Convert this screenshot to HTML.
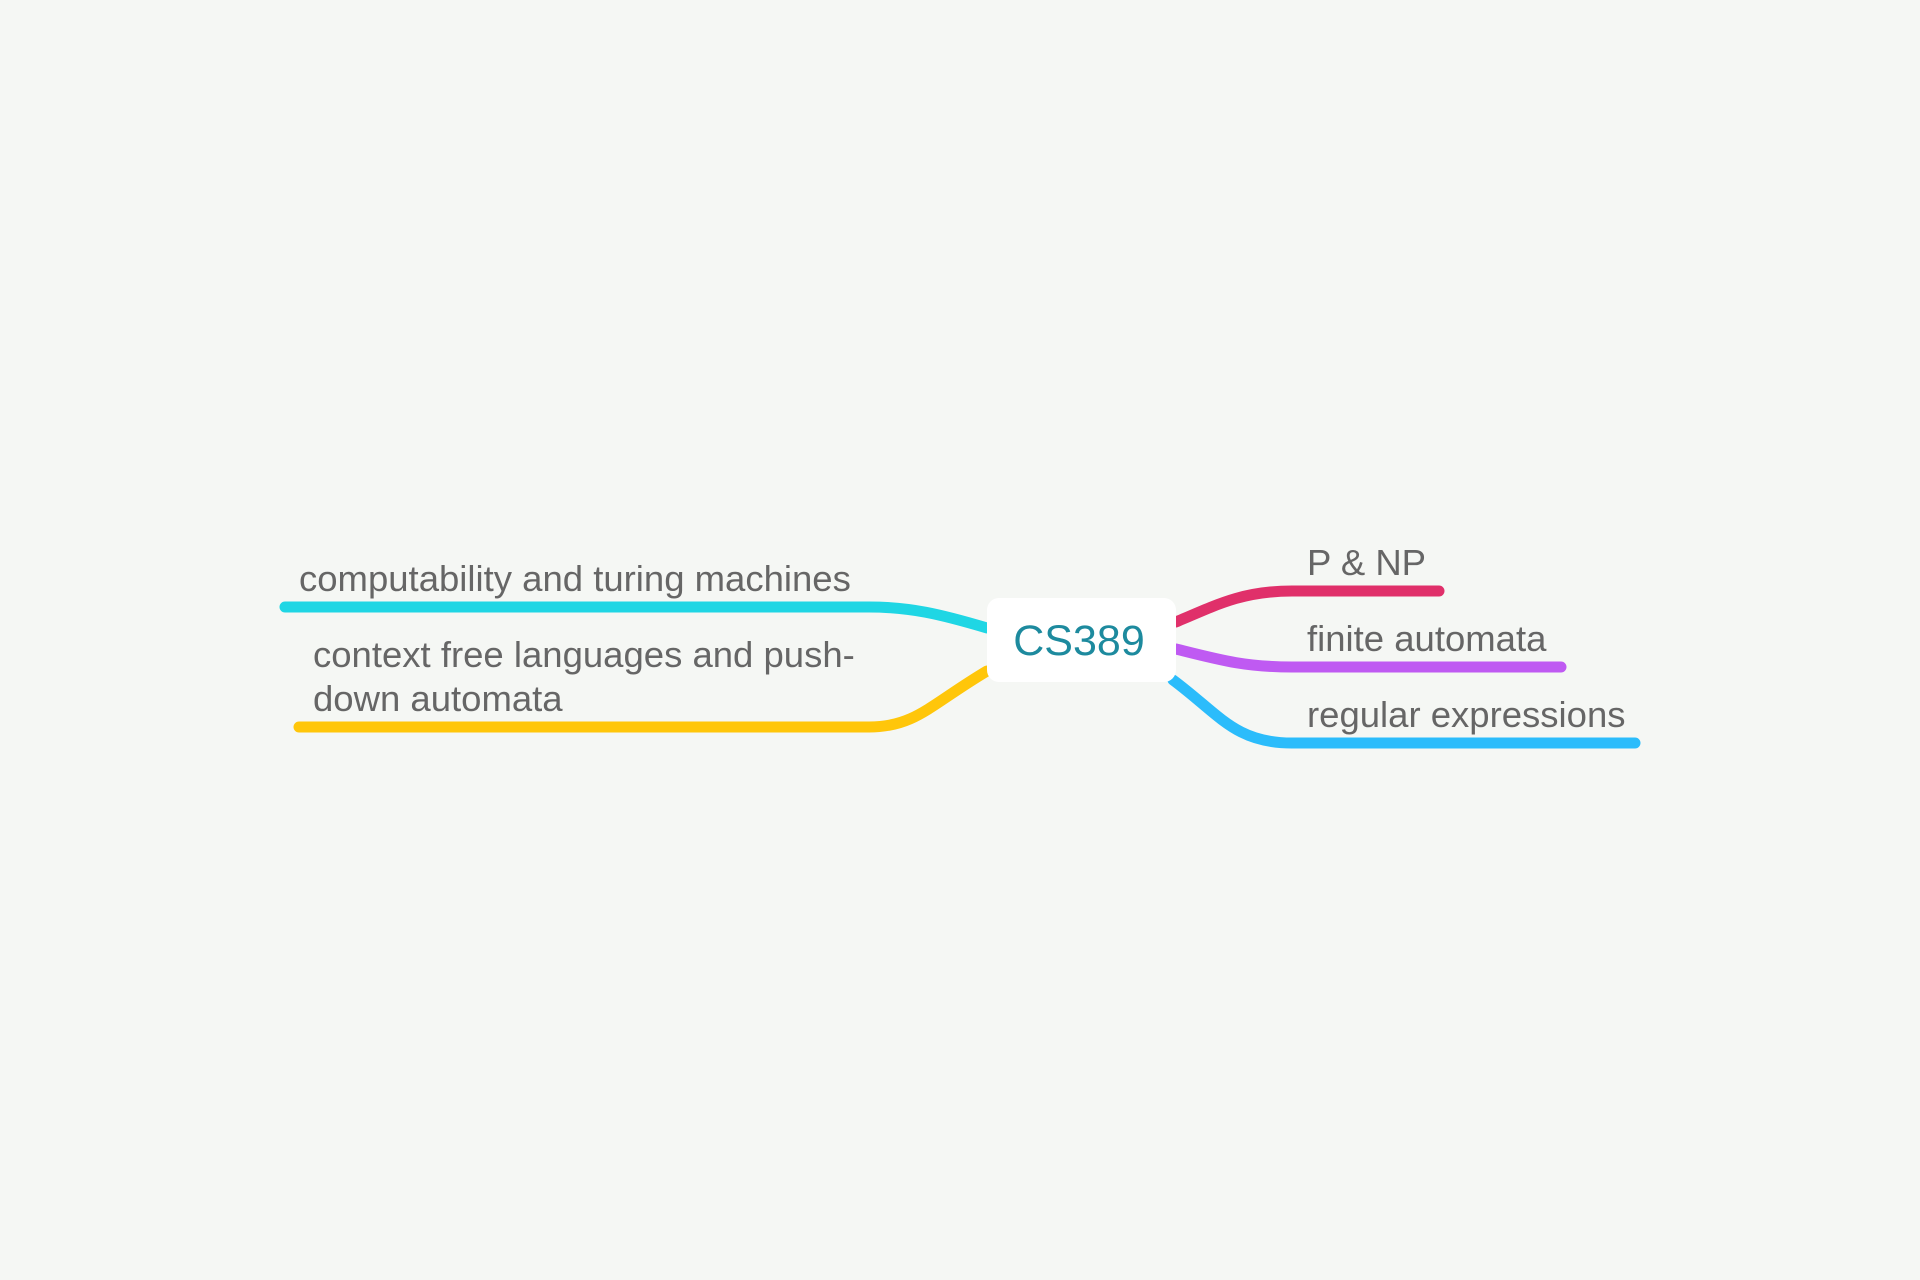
<!DOCTYPE html>
<html><head><meta charset="utf-8"><style>
html,body{margin:0;padding:0;background:#f5f7f4;}
svg{display:block;}
text{font-family:"Liberation Sans",sans-serif;fill:#666;font-size:36.5px;}
</style></head><body>
<svg width="1920" height="1280" viewBox="0 0 1920 1280">
<rect width="1920" height="1280" fill="#f5f7f4"/>
<g fill="none" stroke-width="11" stroke-linecap="round">
<path d="M987,628 C940,614 910,607 869,607 L285,607" stroke="#1fd6e4"/>
<path d="M987,671 C930,705 915,727 869,727 L299,727" stroke="#ffc60a"/>
<path d="M1176,622 C1220,603 1245,591 1292,591 L1439,591" stroke="#e0306a"/>
<path d="M1176,649 C1220,660 1245,667 1292,667 L1561,667" stroke="#bf5af2"/>
<path d="M1173,680 C1220,715 1235,743 1292,743 L1635,743" stroke="#2bbcfb"/>
</g>
<rect x="987" y="598" width="189" height="84" rx="12" fill="#ffffff"/>
<text x="1079" y="655" text-anchor="middle" style="fill:#1d8a9e;font-size:43px">CS389</text>
<text x="299" y="591">computability and turing machines</text>
<text x="313" y="667">context free languages and push-</text>
<text x="313" y="711">down automata</text>
<text x="1307" y="575">P &amp; NP</text>
<text x="1307" y="651">finite automata</text>
<text x="1307" y="727">regular expressions</text>
</svg>
</body></html>
